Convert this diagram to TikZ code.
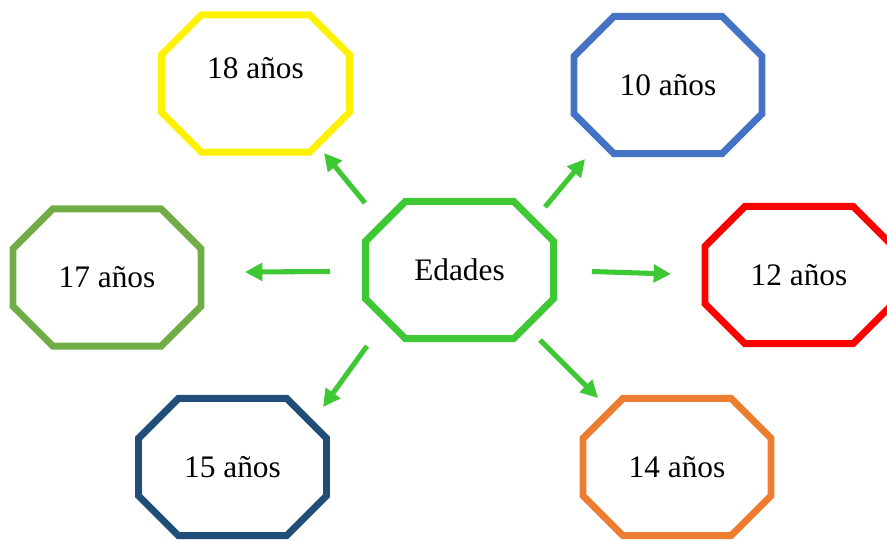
\documentclass[tikz,border=0pt]{standalone}
\usepackage{fontspec}
\setmainfont{Liberation Serif}
\usetikzlibrary{arrows.meta}
\definecolor{verde}{RGB}{61,200,52}
\definecolor{verdeclaro}{RGB}{112,173,71}
\definecolor{azul}{RGB}{68,114,196}
\definecolor{azuloscuro}{RGB}{31,78,121}
\definecolor{naranja}{RGB}{237,125,49}
\tikzset{
  edad/.style={rectangle, minimum width=141pt, minimum height=103pt,
    outer sep=0pt, inner sep=0pt, font=\fontsize{23.5}{27}\selectfont},
  borde/.style={line width=5.2pt, line join=miter},
  flecha/.style={verde, line width=3.8pt,
    -{Triangle[length=13pt,width=13pt]}}
}
% octagono alrededor de un nodo
\newcommand{\octagono}[2]{%
  \draw[borde, #2] ([xshift=30pt]#1.north west) -- ([xshift=-30pt]#1.north east)
    -- ([yshift=-30pt]#1.north east) -- ([yshift=30pt]#1.south east)
    -- ([xshift=-30pt]#1.south east) -- ([xshift=30pt]#1.south west)
    -- ([yshift=30pt]#1.south west) -- ([yshift=-30pt]#1.north west) -- cycle;}
\begin{document}
\begin{tikzpicture}[x=0.75pt,y=-0.75pt]
\useasboundingbox (0,0) rectangle (887,540);
\node[edad] (edades) at (459.5,270) {Edades};
\node[edad, text depth=24pt] (n18) at (255.5,83.5) {18 años};
\node[edad] (n10) at (668,85)    {10 años};
\node[edad] (n17) at (107,277.5) {17 años};
\node[edad] (n12) at (799,275)   {12 años};
\node[edad] (n15) at (232.5,467) {15 años};
\node[edad] (n14) at (677,467)   {14 años};
\octagono{edades}{verde}
\octagono{n18}{yellow}
\octagono{n10}{azul}
\octagono{n17}{verdeclaro}
\octagono{n12}{red}
\octagono{n15}{azuloscuro}
\octagono{n14}{naranja}
% flechas desde el centro
\draw[flecha] ([shift={(-94.5,-67)}]edades.center) -- ([shift={(68.5,69.5)}]n18.center);
\draw[flecha] ([shift={(85.5,-63)}]edades.center)  -- ([shift={(-83,74)}]n10.center);
\draw[flecha] ([shift={(-129.5,1.5)}]edades.center) -- ([shift={(138,-5.5)}]n17.center);
\draw[flecha] ([shift={(132.5,1.5)}]edades.center) -- ([shift={(-128,-1)}]n12.center);
\draw[flecha] ([shift={(-92.5,76)}]edades.center)  -- ([shift={(90.5,-60)}]n15.center);
\draw[flecha] ([shift={(80.5,70)}]edades.center)   -- ([shift={(-79,-69)}]n14.center);
\end{tikzpicture}
\end{document}
